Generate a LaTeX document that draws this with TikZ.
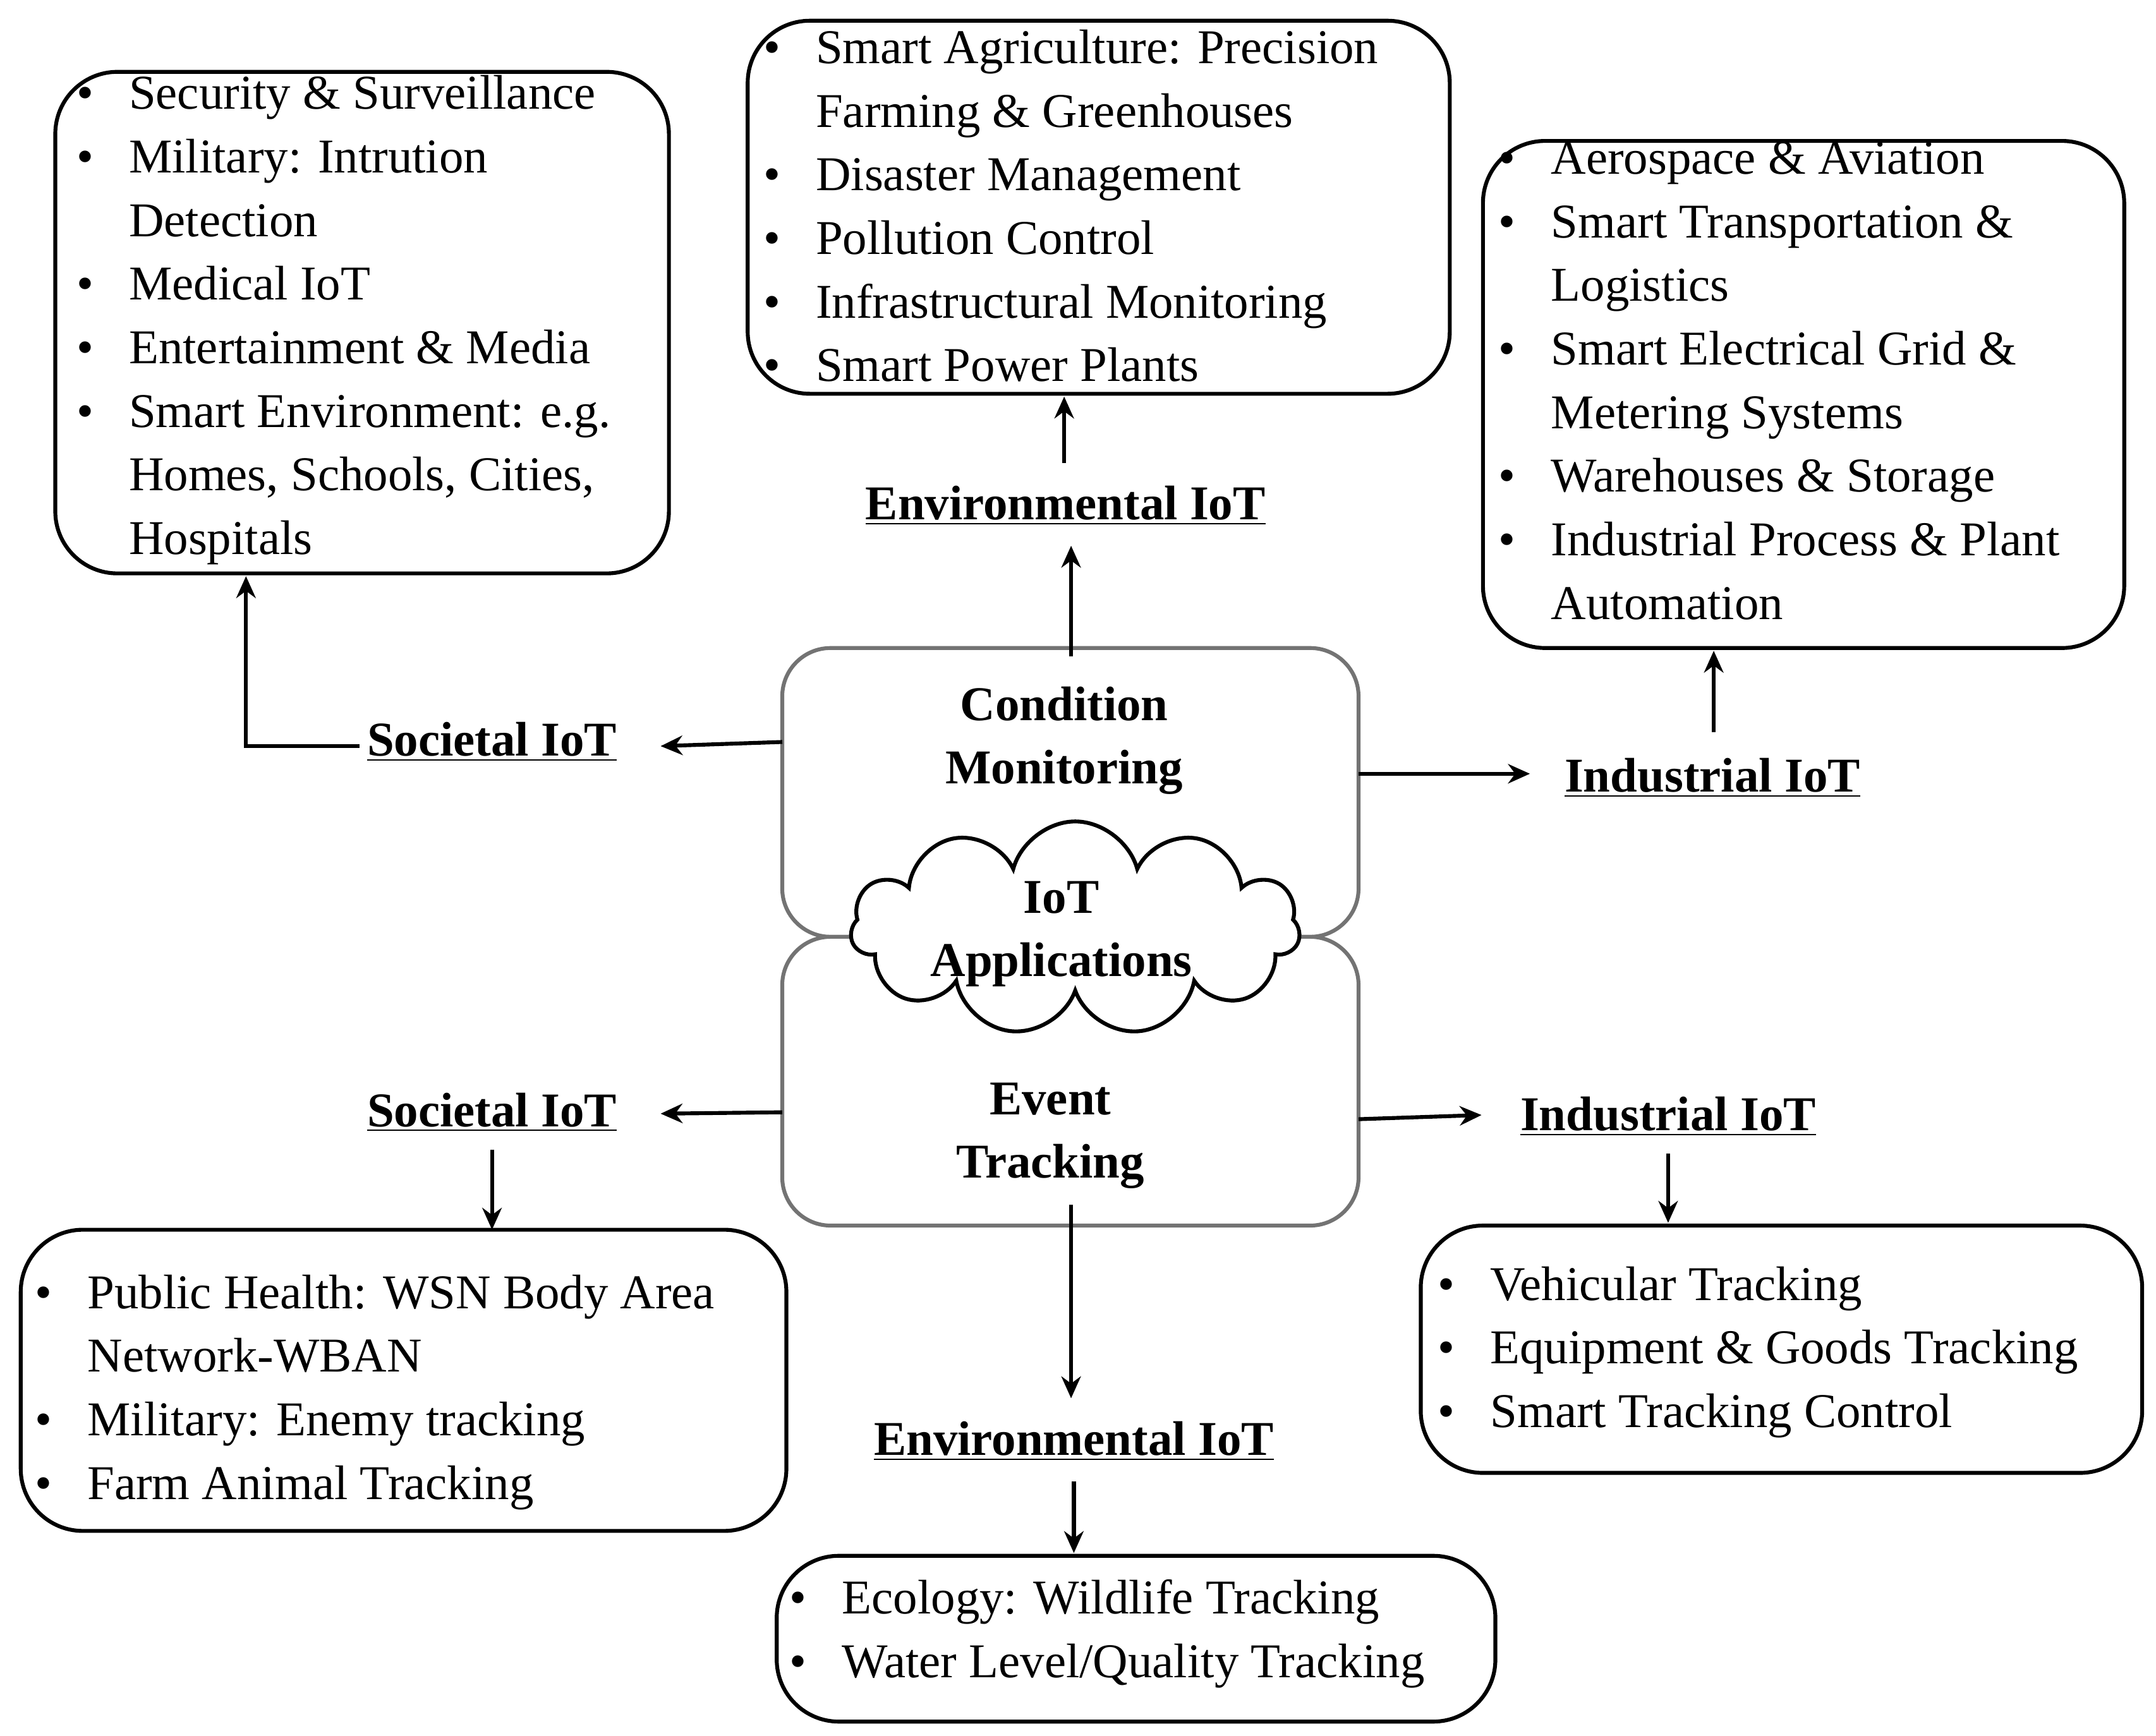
\documentclass[tikz,border=0pt]{standalone}
\usepackage{fontspec}
\setmainfont{Liberation Serif}
\usetikzlibrary{arrows.meta,shapes.symbols}
\newcommand{\bl}{\makebox[0.76cm][l]{\textbullet}}
\begin{document}
\fontsize{20pt}{26.2pt}\selectfont
\begin{tikzpicture}[x=0.02cm,y=-0.02cm,
  box/.style={draw,line width=1.6pt,rounded corners=0.9cm},
  gbox/.style={draw=black!55,line width=1.6pt,rounded corners=0.7cm},
  lst/.style={anchor=base west,inner sep=0pt,align=left},
  lab/.style={font=\bfseries,inner sep=2pt},
  arr/.style={line width=1.6pt,-{Stealth[length=9pt,width=8pt]}}]
\useasboundingbox (0,0) rectangle (1560,1256);
% boxes
\draw[box] (40,52) rectangle (484,415);
\draw[box] (541,15) rectangle (1049,285);
\draw[box] (1073,102) rectangle (1537,469);
\draw[box] (15,890) rectangle (569,1108);
\draw[box] (1028,887) rectangle (1550,1066);
\draw[box] (562,1126) rectangle (1082,1246);
\draw[gbox] (566,469) rectangle (983,678);
\draw[gbox] (566,678) rectangle (983,887);
\node[cloud,cloud puffs=11,draw,fill=white,line width=1.6pt,minimum width=6.5cm,minimum height=3.1cm,aspect=2.2] (cl) at (778,672) {};
\node[font=\bfseries,align=center] (app) at (768,676) {IoT\\Applications};
\node[font=\bfseries,align=center] (cm) at (770,536) {Condition\\Monitoring};
\node[font=\bfseries,align=center] (et) at (760,822) {Event\\Tracking};
% lists
\node[lst] (l1) at (55,79) {\begin{tabular}[t]{@{}l@{}}
\bl Security \& Surveillance\\ \bl Military: Intrution\\ \hspace{0.76cm}Detection\\ \bl Medical IoT\\ \bl Entertainment \& Media\\ \bl Smart Environment: e.g.\\ \hspace{0.76cm}Homes, Schools, Cities,\\ \hspace{0.76cm}Hospitals\end{tabular}};
\node[lst] (l2) at (552,46) {\begin{tabular}[t]{@{}l@{}}
\bl Smart Agriculture: Precision\\ \hspace{0.76cm}Farming \& Greenhouses\\ \bl Disaster Management\\ \bl Pollution Control\\ \bl Infrastructural Monitoring\\ \bl Smart Power Plants\end{tabular}};
\node[lst] (l3) at (1084,126) {\begin{tabular}[t]{@{}l@{}}
\bl Aerospace \& Aviation\\ \bl Smart Transportation \&\\ \hspace{0.76cm}Logistics\\ \bl Smart Electrical Grid \&\\ \hspace{0.76cm}Metering Systems\\ \bl Warehouses \& Storage\\ \bl Industrial Process \& Plant\\ \hspace{0.76cm}Automation\end{tabular}};
\node[lst] (l7) at (25,947) {\begin{tabular}[t]{@{}l@{}}
\bl Public Health: WSN Body Area\\ \hspace{0.76cm}Network-WBAN\\ \bl Military: Enemy tracking\\ \bl Farm Animal Tracking\end{tabular}};
\node[lst] (l8) at (1040,941) {\begin{tabular}[t]{@{}l@{}}
\bl Vehicular Tracking\\ \bl Equipment \& Goods Tracking\\ \bl Smart Tracking Control\end{tabular}};
\node[lst] (l9) at (571,1168) {\begin{tabular}[t]{@{}l@{}}
\bl Ecology: Wildlife Tracking\\ \bl Water Level/Quality Tracking\end{tabular}};
% labels
\node[lab] (envU) at (771,366) {\underline{Environmental IoT}};
\node[lab] (socU) at (356,537) {\underline{Societal IoT}};
\node[lab] (indU) at (1239,563) {\underline{Industrial IoT}};
\node[lab] (socL) at (356,805) {\underline{Societal IoT}};
\node[lab] (indL) at (1207,808) {\underline{Industrial IoT}};
\node[lab] (envL) at (777,1043) {\underline{Environmental IoT}};
% coordinates
\coordinate (a1) at (775,475); \coordinate (a2) at (775,395);
\coordinate (b1) at (770,335); \coordinate (b2) at (770,287);
\coordinate (c1) at (566,537); \coordinate (c2) at (478,540);
\coordinate (d1) at (260,540); \coordinate (d2) at (178,417);
\coordinate (e1) at (983,560); \coordinate (e2) at (1107,560);
\coordinate (f1) at (1240,530); \coordinate (f2) at (1240,471);
\coordinate (g1) at (566,805); \coordinate (g2) at (478,806);
\coordinate (h1) at (356,832); \coordinate (h2) at (356,890);
\coordinate (i1) at (983,810); \coordinate (i2) at (1072,807);
\coordinate (j1) at (1207,835); \coordinate (j2) at (1207,885);
\coordinate (k1) at (775,872); \coordinate (k2) at (775,1012);
\coordinate (m1) at (777,1072); \coordinate (m2) at (777,1124);
\draw[arr] (a1) -- (a2);
\draw[arr] (b1) -- (b2);
\draw[arr] (c1) -- (c2);
\draw[arr] (d1) -| (d2);
\draw[arr] (e1) -- (e2);
\draw[arr] (f1) -- (f2);
\draw[arr] (g1) -- (g2);
\draw[arr] (h1) -- (h2);
\draw[arr] (i1) -- (i2);
\draw[arr] (j1) -- (j2);
\draw[arr] (k1) -- (k2);
\draw[arr] (m1) -- (m2);
\end{tikzpicture}
\end{document}
